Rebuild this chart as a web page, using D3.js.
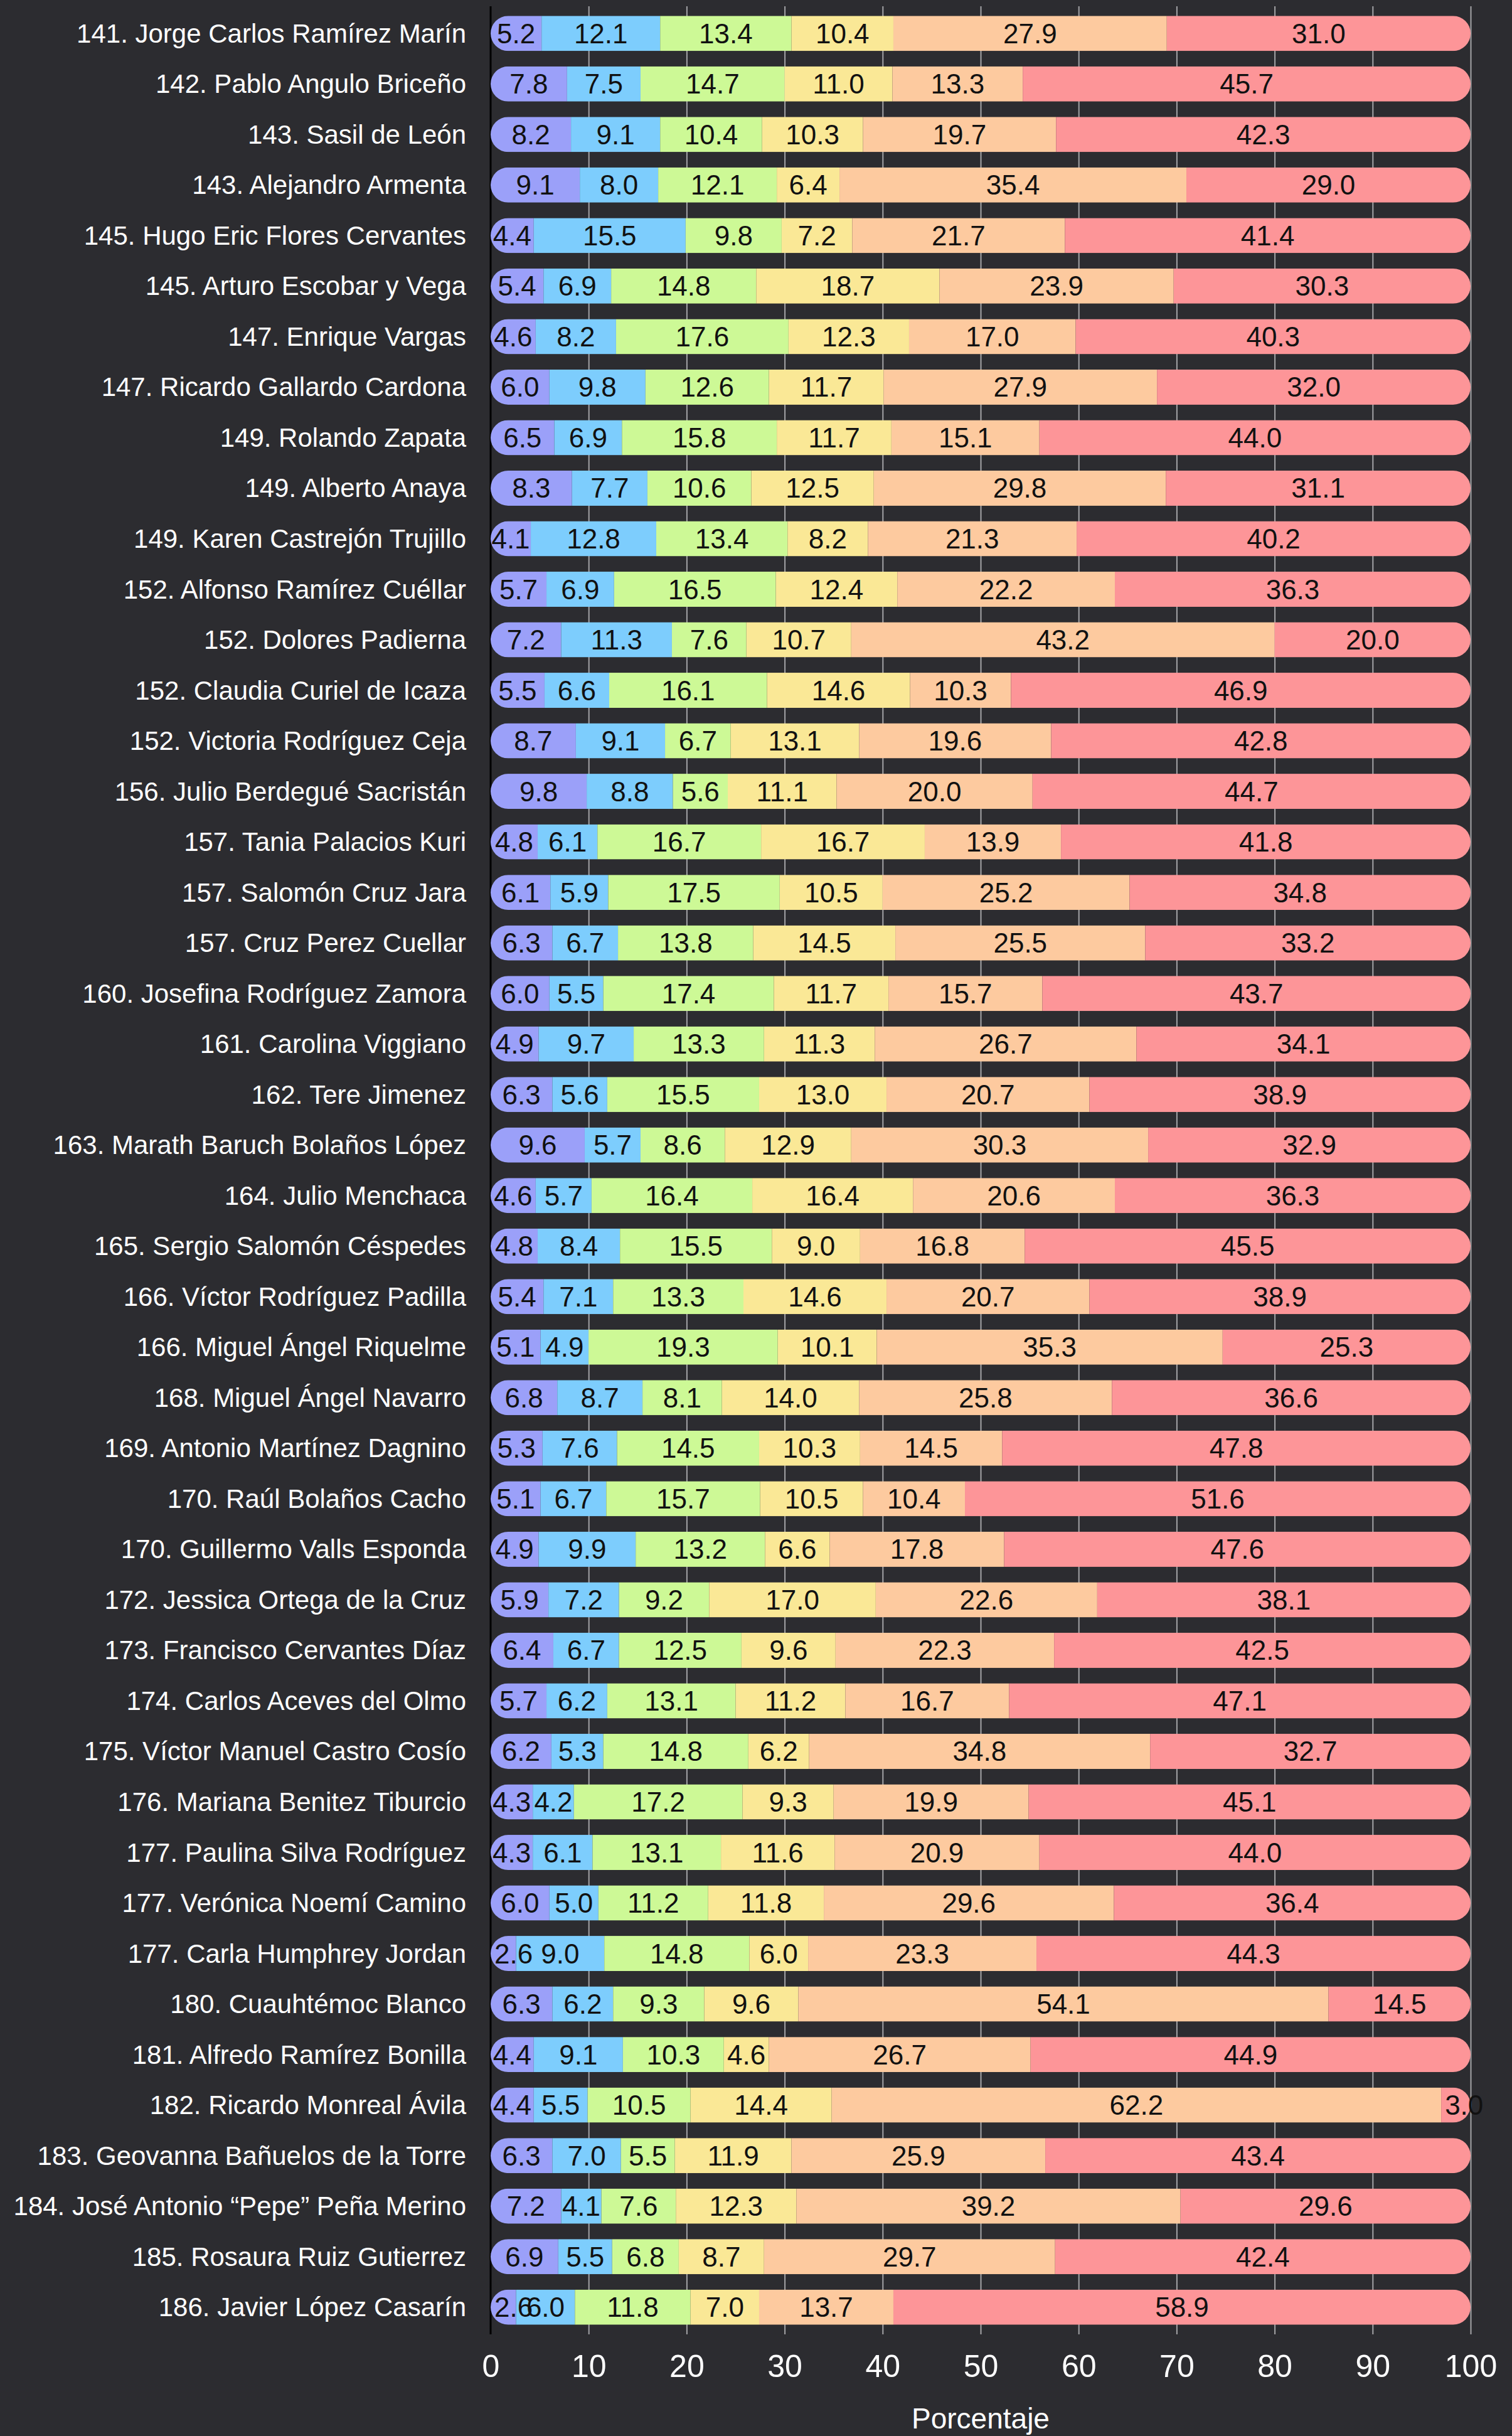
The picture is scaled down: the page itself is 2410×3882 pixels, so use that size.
<!DOCTYPE html>
<html>
<head>
<meta charset="utf-8">
<script src="https://cdn.jsdelivr.net/npm/d3@7"></script>
<style>
  html, body { margin: 0; padding: 0; background: #2c2c30; }
  svg { display: block; font-family: "Liberation Sans", Arial, Helvetica, sans-serif; }
</style>
</head>
<body>
<svg id="chart" width="2410" height="3882"></svg>
<script>
'use strict';

var names = [
    '141. Jorge Carlos Ramírez Marín', '142. Pablo Angulo Briceño', '143. Sasil de León',
    '143. Alejandro Armenta', '145. Hugo Eric Flores Cervantes', '145. Arturo Escobar y Vega',
    '147. Enrique Vargas', '147. Ricardo Gallardo Cardona', '149. Rolando Zapata',
    '149. Alberto Anaya', '149. Karen Castrejón Trujillo', '152. Alfonso Ramírez Cuéllar',
    '152. Dolores Padierna', '152. Claudia Curiel de Icaza', '152. Victoria Rodríguez Ceja',
    '156. Julio Berdegué Sacristán', '157. Tania Palacios Kuri', '157. Salomón Cruz Jara',
    '157. Cruz Perez Cuellar', '160. Josefina Rodríguez Zamora', '161. Carolina Viggiano',
    '162. Tere Jimenez', '163. Marath Baruch Bolaños López', '164. Julio Menchaca',
    '165. Sergio Salomón Céspedes', '166. Víctor Rodríguez Padilla', '166. Miguel Ángel Riquelme',
    '168. Miguel Ángel Navarro', '169. Antonio Martínez Dagnino', '170. Raúl Bolaños Cacho',
    '170. Guillermo Valls Esponda', '172. Jessica Ortega de la Cruz', '173. Francisco Cervantes Díaz',
    '174. Carlos Aceves del Olmo', '175. Víctor Manuel Castro Cosío', '176. Mariana Benitez Tiburcio',
    '177. Paulina Silva Rodríguez', '177. Verónica Noemí Camino', '177. Carla Humphrey Jordan',
    '180. Cuauhtémoc Blanco', '181. Alfredo Ramírez Bonilla', '182. Ricardo Monreal Ávila',
    '183. Geovanna Bañuelos de la Torre', '184. José Antonio “Pepe” Peña Merino',
    '185. Rosaura Ruiz Gutierrez', '186. Javier López Casarín'
];

// one array per colour band, left to right
var serie1 = [5.2, 7.8, 8.2, 9.1, 4.4, 5.4, 4.6, 6.0, 6.5, 8.3, 4.1, 5.7, 7.2, 5.5, 8.7, 9.8,
    4.8, 6.1, 6.3, 6.0, 4.9, 6.3, 9.6, 4.6, 4.8, 5.4, 5.1, 6.8, 5.3, 5.1, 4.9, 5.9, 6.4, 5.7,
    6.2, 4.3, 4.3, 6.0, 2.6, 6.3, 4.4, 4.4, 6.3, 7.2, 6.9, 2.6];
var serie2 = [12.1, 7.5, 9.1, 8.0, 15.5, 6.9, 8.2, 9.8, 6.9, 7.7, 12.8, 6.9, 11.3, 6.6, 9.1, 8.8,
    6.1, 5.9, 6.7, 5.5, 9.7, 5.6, 5.7, 5.7, 8.4, 7.1, 4.9, 8.7, 7.6, 6.7, 9.9, 7.2, 6.7, 6.2,
    5.3, 4.2, 6.1, 5.0, 9.0, 6.2, 9.1, 5.5, 7.0, 4.1, 5.5, 6.0];
var serie3 = [13.4, 14.7, 10.4, 12.1, 9.8, 14.8, 17.6, 12.6, 15.8, 10.6, 13.4, 16.5, 7.6, 16.1,
    6.7, 5.6, 16.7, 17.5, 13.8, 17.4, 13.3, 15.5, 8.6, 16.4, 15.5, 13.3, 19.3, 8.1, 14.5, 15.7,
    13.2, 9.2, 12.5, 13.1, 14.8, 17.2, 13.1, 11.2, 14.8, 9.3, 10.3, 10.5, 5.5, 7.6, 6.8, 11.8];
var serie4 = [10.4, 11.0, 10.3, 6.4, 7.2, 18.7, 12.3, 11.7, 11.7, 12.5, 8.2, 12.4, 10.7, 14.6,
    13.1, 11.1, 16.7, 10.5, 14.5, 11.7, 11.3, 13.0, 12.9, 16.4, 9.0, 14.6, 10.1, 14.0, 10.3, 10.5,
    6.6, 17.0, 9.6, 11.2, 6.2, 9.3, 11.6, 11.8, 6.0, 9.6, 4.6, 14.4, 11.9, 12.3, 8.7, 7.0];
var serie5 = [27.9, 13.3, 19.7, 35.4, 21.7, 23.9, 17.0, 27.9, 15.1, 29.8, 21.3, 22.2, 43.2, 10.3,
    19.6, 20.0, 13.9, 25.2, 25.5, 15.7, 26.7, 20.7, 30.3, 20.6, 16.8, 20.7, 35.3, 25.8, 14.5, 10.4,
    17.8, 22.6, 22.3, 16.7, 34.8, 19.9, 20.9, 29.6, 23.3, 54.1, 26.7, 62.2, 25.9, 39.2, 29.7, 13.7];
var serie6 = [31.0, 45.7, 42.3, 29.0, 41.4, 30.3, 40.3, 32.0, 44.0, 31.1, 40.2, 36.3, 20.0, 46.9,
    42.8, 44.7, 41.8, 34.8, 33.2, 43.7, 34.1, 38.9, 32.9, 36.3, 45.5, 38.9, 25.3, 36.6, 47.8, 51.6,
    47.6, 38.1, 42.5, 47.1, 32.7, 45.1, 44.0, 36.4, 44.3, 14.5, 44.9, 3.0, 43.4, 29.6, 42.4, 58.9];

var colors = ['#9ba0f9', '#7dcdfd', '#cdf996', '#fae896', '#fdca9f', '#fd9598'];
var xTicks = [0, 10, 20, 30, 40, 50, 60, 70, 80, 90, 100];
var xTitle = 'Porcentaje';

var builder = {
    _rows: function () {
        var series = [serie1, serie2, serie3, serie4, serie5, serie6];
        return names.map(function (name, i) {
            var x0 = 0;
            var segs = series.map(function (s, k) {
                var seg = { k: k, x0: x0, x1: x0 + s[i], v: s[i] };
                x0 += s[i];
                return seg;
            });
            return { name: name, i: i, total: x0, segs: segs };
        });
    },

    _build: function (svg) {
        var rows = builder._rows();
        var top = 10, bottom = 3720, left = 782, right = 2344;

        var x = d3.scaleLinear().domain([0, 100]).range([left, right]);
        var y = d3.scaleBand().domain(names).range([top, bottom])
            .paddingInner(0.305).paddingOuter(0.19);
        var bh = y.bandwidth();

        // gridlines + tick labels
        var xAxis = svg.append('g')
            .attr('transform', 'translate(0,' + bottom + ')')
            .call(d3.axisBottom(x).tickValues(xTicks).tickSize(-(bottom - top)).tickPadding(32));
        xAxis.select('.domain').remove();
        xAxis.selectAll('.tick line')
            .attr('stroke', '#a3a3a6')
            .attr('stroke-width', 2);
        xAxis.selectAll('.tick')
            .filter(function (d) { return d === 0; })
            .select('line').remove();
        xAxis.selectAll('.tick text')
            .attr('fill', '#ffffff')
            .attr('font-size', 50)
            .attr('font-family', '"Liberation Sans", Arial, Helvetica, sans-serif');

        svg.append('text')
            .attr('x', (left + right) / 2)
            .attr('y', 3870)
            .attr('text-anchor', 'middle')
            .attr('fill', '#ffffff')
            .attr('font-size', 46)
            .text(xTitle);

        // left axis line
        svg.append('line')
            .attr('x1', left).attr('x2', left)
            .attr('y1', top).attr('y2', bottom)
            .attr('stroke', '#000000')
            .attr('stroke-width', 3);

        var defs = svg.append('defs');
        defs.selectAll('clipPath')
            .data(rows)
            .enter()
            .append('clipPath')
            .attr('id', function (d) { return 'row-clip-' + d.i; })
            .append('rect')
            .attr('x', x(0))
            .attr('y', function (d) { return y(d.name); })
            .attr('width', function (d) { return x(d.total) - x(0); })
            .attr('height', bh)
            .attr('rx', bh / 2)
            .attr('ry', bh / 2);

        var row = svg.append('g').selectAll('g.row')
            .data(rows)
            .enter()
            .append('g')
            .attr('class', 'row');

        row.append('g')
            .attr('clip-path', function (d) { return 'url(#row-clip-' + d.i + ')'; })
            .selectAll('rect')
            .data(function (d) {
                return d.segs.map(function (s) { return { s: s, name: d.name }; });
            })
            .enter()
            .append('rect')
            .attr('x', function (d) { return x(d.s.x0); })
            .attr('y', function (d) { return y(d.name); })
            .attr('width', function (d) { return x(d.s.x1) - x(d.s.x0); })
            .attr('height', bh)
            .attr('fill', function (d) { return colors[d.s.k]; });

        row.selectAll('text.val')
            .data(function (d) {
                return d.segs.map(function (s) { return { s: s, name: d.name }; });
            })
            .enter()
            .append('text')
            .attr('class', 'val')
            .attr('x', function (d) { return x((d.s.x0 + d.s.x1) / 2); })
            .attr('y', function (d) { return y(d.name) + bh / 2; })
            .attr('text-anchor', 'middle')
            .attr('dominant-baseline', 'central')
            .attr('fill', '#111111')
            .attr('font-size', 44)
            .text(function (d) { return d.s.v.toFixed(1); })
            .each(function (d) {
                // labels wider than their segment start at the segment's left edge
                var w = this.getComputedTextLength();
                var segW = x(d.s.x1) - x(d.s.x0);
                if (w > segW) {
                    d3.select(this)
                        .attr('text-anchor', 'start')
                        .attr('x', x(d.s.x0) + 6);
                }
            });

        // category labels
        row.append('text')
            .attr('x', 743)
            .attr('y', function (d) { return y(d.name) + bh / 2; })
            .attr('text-anchor', 'end')
            .attr('dominant-baseline', 'central')
            .attr('fill', '#ffffff')
            .attr('font-size', 42)
            .text(function (d) { return d.name; });
    }
};

builder._build(d3.select('#chart'));
</script>
</body>
</html>
